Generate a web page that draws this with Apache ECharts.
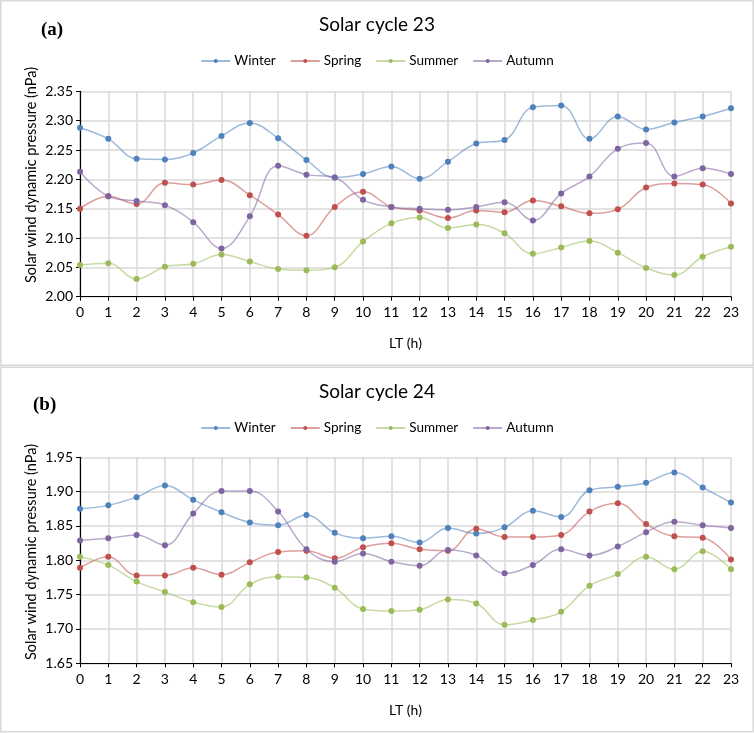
<!DOCTYPE html>
<html>
<head>
<meta charset="utf-8">
<script src="https://cdn.jsdelivr.net/npm/echarts@6/dist/echarts.min.js"></script>
<style>
html,body{margin:0;padding:0;background:#fff;}
#c{width:754px;height:733px;}
</style>
</head>
<body>
<div id="c"></div>
<script>
// Tick labels / categories
const hours = ['0','1','2','3','4','5','6','7','8','9','10','11','12','13','14','15','16','17','18','19','20','21','22','23'];
const seasons = ['Winter','Spring','Summer','Autumn'];

// Solar cycle 23 (panel a)
const sc23Winter = [2.288,2.269,2.235,2.234,2.245,2.274,2.296,2.270,2.233,2.203,2.209,2.222,2.201,2.230,2.261,2.267,2.323,2.326,2.269,2.307,2.285,2.297,2.307,2.321];
const sc23Spring = [2.150,2.171,2.158,2.194,2.191,2.199,2.173,2.140,2.104,2.153,2.179,2.153,2.147,2.134,2.147,2.144,2.164,2.154,2.142,2.149,2.186,2.193,2.191,2.159];
const sc23Summer = [2.054,2.057,2.030,2.051,2.056,2.072,2.060,2.047,2.045,2.050,2.094,2.125,2.135,2.117,2.123,2.108,2.073,2.084,2.095,2.075,2.049,2.037,2.068,2.085];
const sc23Autumn = [2.213,2.171,2.163,2.156,2.127,2.082,2.137,2.223,2.208,2.203,2.165,2.153,2.150,2.148,2.153,2.161,2.130,2.176,2.205,2.252,2.262,2.205,2.219,2.209];

// Solar cycle 24 (panel b)
const sc24Winter = [1.875,1.880,1.892,1.909,1.888,1.870,1.855,1.851,1.866,1.840,1.832,1.835,1.826,1.847,1.839,1.848,1.872,1.863,1.902,1.907,1.913,1.928,1.906,1.884];
const sc24Spring = [1.789,1.805,1.778,1.778,1.789,1.779,1.797,1.812,1.814,1.803,1.819,1.825,1.816,1.814,1.846,1.834,1.834,1.837,1.871,1.883,1.853,1.835,1.833,1.801];
const sc24Summer = [1.805,1.793,1.769,1.754,1.739,1.732,1.765,1.776,1.775,1.760,1.729,1.726,1.728,1.743,1.737,1.706,1.713,1.725,1.763,1.780,1.805,1.787,1.813,1.787];
const sc24Autumn = [1.829,1.832,1.837,1.822,1.868,1.901,1.901,1.871,1.816,1.798,1.810,1.798,1.792,1.815,1.807,1.781,1.793,1.816,1.807,1.820,1.841,1.856,1.851,1.847];

const yTicks23 = {min:2.00, max:2.35, interval:0.05};
const yTicks24 = {min:1.65, max:1.95, interval:0.05};

const colors = ['#4F81BD','#C0504D','#9BBB59','#8064A2'];
const FONT = 'Lato, "Open Sans", sans-serif';

const chart = echarts.init(document.getElementById('c'), null, {renderer:'canvas'});

function xAxisCfg(gi){
  return {
    gridIndex: gi, type:'category', data: hours, boundaryGap:false,
    axisLine:{show:true, lineStyle:{color:'#000', width:1.2}},
    axisTick:{show:true, length:4, lineStyle:{color:'#000'}},
    axisLabel:{color:'#000', fontSize:14, fontFamily:FONT, margin:9, interval:0},
    splitLine:{show:true, lineStyle:{color:'#d9d9d9', width:1.5}},
    name:'LT (h)', nameLocation:'middle', nameGap:40,
    nameTextStyle:{color:'#000', fontSize:14, fontFamily:FONT}
  };
}
function yAxisCfg(gi, t){
  return {
    gridIndex: gi, type:'value', min:t.min, max:t.max, interval:t.interval,
    axisLine:{show:true, lineStyle:{color:'#000', width:1.2}},
    axisTick:{show:true, length:4, lineStyle:{color:'#000'}},
    axisLabel:{color:'#000', fontSize:14, fontFamily:FONT, margin:7, formatter:v=>v.toFixed(2)},
    splitLine:{show:true, lineStyle:{color:'#d9d9d9', width:1.5}}
  };
}
function mkSeries(name, data, idx, gi){
  return {
    name, type:'line', data, xAxisIndex:gi, yAxisIndex:gi,
    smooth:0.4, symbol:'circle', symbolSize:6,
    itemStyle:{color:colors[idx]},
    lineStyle:{color:colors[idx], width:1.5, opacity:0.55},
    emphasis:{disabled:true}, animation:false
  };
}

const legendCfg = (top)=>({
  top, left:'center', itemWidth:29, itemHeight:5, itemGap:14,
  textStyle:{color:'#000', fontSize:13.5, fontFamily:FONT, padding:[0,0,0,-1]},
  data: seasons, selectedMode:false
});

chart.setOption({
  backgroundColor:'#fff',
  animation:false,
  title:[
    {text:'Solar cycle 23', left:'center', top:10, textStyle:{fontSize:19, fontWeight:'normal', color:'#000', fontFamily:FONT}},
    {text:'Solar cycle 24', left:'center', top:377, textStyle:{fontSize:19, fontWeight:'normal', color:'#000', fontFamily:FONT}}
  ],
  legend:[legendCfg(49), legendCfg(416)],
  grid:[
    {left:80, right:23, top:91.3, height:205.4},
    {left:80, right:23, top:457.3, height:206}
  ],
  xAxis:[xAxisCfg(0), xAxisCfg(1)],
  yAxis:[yAxisCfg(0, yTicks23), yAxisCfg(1, yTicks24)],
  series:[
    mkSeries('Winter', sc23Winter, 0, 0),
    mkSeries('Spring', sc23Spring, 1, 0),
    mkSeries('Summer', sc23Summer, 2, 0),
    mkSeries('Autumn', sc23Autumn, 3, 0),
    mkSeries('Winter', sc24Winter, 0, 1),
    mkSeries('Spring', sc24Spring, 1, 1),
    mkSeries('Summer', sc24Summer, 2, 1),
    mkSeries('Autumn', sc24Autumn, 3, 1)
  ],
  graphic:[
    {type:'rect', shape:{x:0.75, y:0.75, width:752.5, height:364.5}, style:{fill:null, stroke:'#d9d9d9', lineWidth:1.5}, silent:true, z:-1},
    {type:'rect', shape:{x:0.75, y:367.25, width:752.5, height:364.5}, style:{fill:null, stroke:'#d9d9d9', lineWidth:1.5}, silent:true, z:-1},
    {type:'text', left:41, top:21, style:{text:'(a)', fontSize:19, fontWeight:'bold', fontFamily:'"Liberation Serif", "DejaVu Serif", serif', fill:'#000'}},
    {type:'text', left:33, top:396, style:{text:'(b)', fontSize:19, fontWeight:'bold', fontFamily:'"Liberation Serif", "DejaVu Serif", serif', fill:'#000'}},
    {type:'text', x:31, y:175, rotation:Math.PI/2, style:{text:'Solar wind dynamic pressure (nPa)', fontSize:14.5, fontFamily:FONT, fill:'#000', textAlign:'center', textVerticalAlign:'middle'}},
    {type:'text', x:31, y:552, rotation:Math.PI/2, style:{text:'Solar wind dynamic pressure (nPa)', fontSize:14.5, fontFamily:FONT, fill:'#000', textAlign:'center', textVerticalAlign:'middle'}}
  ]
});
</script>
</body>
</html>
